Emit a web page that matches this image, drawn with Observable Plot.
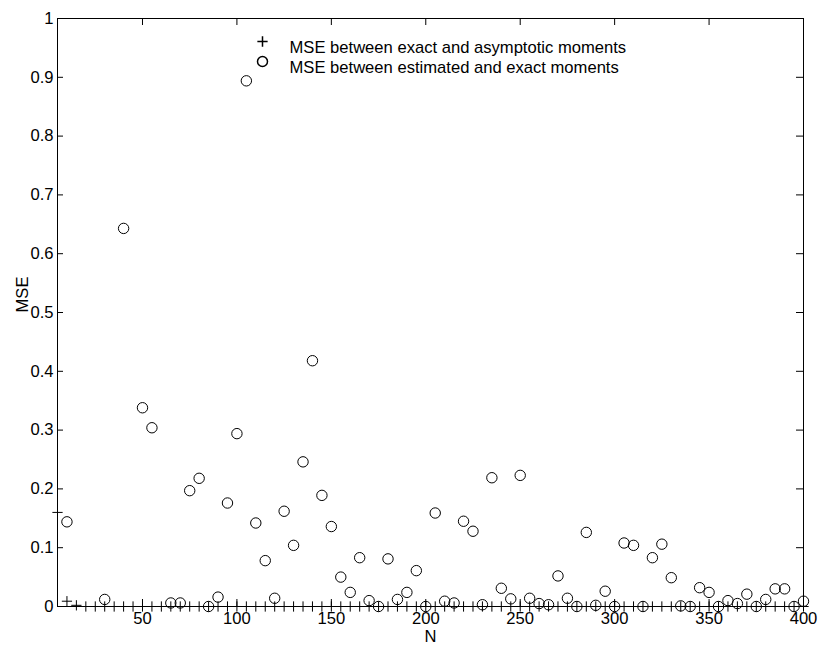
<!DOCTYPE html>
<html><head><meta charset="utf-8">
<script src="https://cdn.jsdelivr.net/npm/d3@7"></script>
<script src="https://cdn.jsdelivr.net/npm/@observablehq/plot@0.6"></script>
<style>body{margin:0;background:#fff} svg{display:block}</style>
</head><body><div id="chart"></div>
<script>
const xTicks = [50, 100, 150, 200, 250, 300, 350, 400];
const yTicks = [0, 0.1, 0.2, 0.3, 0.4, 0.5, 0.6, 0.7, 0.8, 0.9, 1];
const yTickLabels = ["0", "0.1", "0.2", "0.3", "0.4", "0.5", "0.6", "0.7", "0.8", "0.9", "1"];

// MSE between exact and asymptotic moments (plus markers)
const plusN = [5, 10, 15, 20, 25, 30, 35, 40, 45, 50, 55, 60, 65, 70, 75, 80, 85, 90, 95, 100,
  105, 110, 115, 120, 125, 130, 135, 140, 145, 150, 155, 160, 165, 170, 175, 180, 185, 190, 195, 200,
  205, 210, 215, 220, 225, 230, 235, 240, 245, 250, 255, 260, 265, 270, 275, 280, 285, 290, 295, 300,
  305, 310, 315, 320, 325, 330, 335, 340, 345, 350, 355, 360, 365, 370, 375, 380, 385, 390, 395, 400];
const plusMSE = [0.16, 0.009, 0.002, 0, 0, 0, 0, 0, 0, 0, 0, 0, 0, 0, 0, 0, 0, 0, 0, 0,
  0, 0, 0, 0, 0, 0, 0, 0, 0, 0, 0, 0, 0, 0, 0, 0, 0, 0, 0, 0,
  0, 0, 0, 0, 0, 0, 0, 0, 0, 0, 0, 0, 0, 0, 0, 0, 0, 0, 0, 0,
  0, 0, 0, 0, 0, 0, 0, 0, 0, 0, 0, 0, 0, 0, 0, 0, 0, 0, 0, 0];

// MSE between estimated and exact moments (circle markers)
const circleN = [10, 30, 40, 50, 55, 65, 70, 75, 80, 85, 90, 95, 100, 105, 110, 115, 120, 125, 130, 135,
  140, 145, 150, 155, 160, 165, 170, 175, 180, 185, 190, 195, 200, 205, 210, 215, 220, 225, 230, 235,
  240, 245, 250, 255, 260, 265, 270, 275, 280, 285, 290, 295, 300, 305, 310, 315, 320, 325, 330, 335,
  340, 345, 350, 355, 360, 365, 370, 375, 380, 385, 390, 395, 400];
const circleMSE = [0.144, 0.012, 0.643, 0.338, 0.304, 0.006, 0.006, 0.197, 0.218, 0.0, 0.016, 0.176, 0.294, 0.894, 0.142, 0.078, 0.014, 0.162, 0.104, 0.246,
  0.418, 0.189, 0.136, 0.050, 0.024, 0.083, 0.010, 0.0, 0.081, 0.012, 0.024, 0.061, 0.0, 0.159, 0.009, 0.006, 0.145, 0.128, 0.003, 0.219,
  0.031, 0.013, 0.223, 0.014, 0.005, 0.003, 0.052, 0.014, 0.0, 0.126, 0.002, 0.026, 0.0, 0.108, 0.104, 0.0, 0.083, 0.106, 0.049, 0.001,
  0.0, 0.032, 0.024, 0.0, 0.010, 0.005, 0.021, 0.0, 0.012, 0.030, 0.030, 0.0, 0.009];

const legendLabels = ["MSE between exact and asymptotic moments", "MSE between estimated and exact moments"];
const xLabel = "N";
const yLabel = "MSE";

const plusData = plusN.map((n, i) => ({N: n, MSE: plusMSE[i]}));
const circleData = circleN.map((n, i) => ({N: n, MSE: circleMSE[i]}));

const chart = Plot.plot({
  width: 822,
  height: 654,
  marginLeft: 57,
  marginRight: 19,
  marginTop: 18,
  marginBottom: 48,
  style: {fontFamily: "'Liberation Sans', Arial, sans-serif", fontSize: "16.6px", color: "#000", background: "#fff"},
  x: {domain: [5, 400], label: null},
  y: {domain: [0, 1], label: null},
  marks: [
    Plot.frame({stroke: "#000", strokeWidth: 1}),
    Plot.axisX(xTicks, {anchor: "bottom", tickSize: -7, tickPadding: 13, label: null, tickFormat: d => String(d)}),
    Plot.axisX(xTicks, {anchor: "top", tickSize: -6, tickFormat: () => "", label: null}),
    Plot.axisY(yTicks, {anchor: "left", tickSize: -6, tickPadding: 10, label: null, tickFormat: d => yTickLabels[yTicks.indexOf(d)]}),
    Plot.axisY(yTicks, {anchor: "right", tickSize: -8, tickFormat: () => "", label: null}),
    Plot.dot(plusData, {x: "N", y: "MSE", symbol: "plus", r: 3.4, stroke: "#000", strokeWidth: 1}),
    Plot.dot(circleData, {x: "N", y: "MSE", r: 5.2, stroke: "#000", fill: "none", strokeWidth: 1}),
    Plot.dot([legendLabels[0]], {frameAnchor: "top-left", dx: 205, dy: 23, symbol: "plus", r: 3.4, stroke: "#000"}),
    Plot.dot([legendLabels[1]], {frameAnchor: "top-left", dx: 205, dy: 43, r: 5, stroke: "#000", fill: "none"}),
    Plot.text([legendLabels[0]], {frameAnchor: "top-left", dx: 232, dy: 23, textAnchor: "start", fill: "#000"}),
    Plot.text([legendLabels[1]], {frameAnchor: "top-left", dx: 232, dy: 43, textAnchor: "start", fill: "#000"}),
    Plot.text([xLabel], {frameAnchor: "bottom", dy: 35, fill: "#000"}),
    Plot.text([yLabel], {frameAnchor: "left", dx: -35, rotate: -90, fill: "#000"})
  ]
});
document.getElementById("chart").appendChild(chart);
</script>
</body></html>
